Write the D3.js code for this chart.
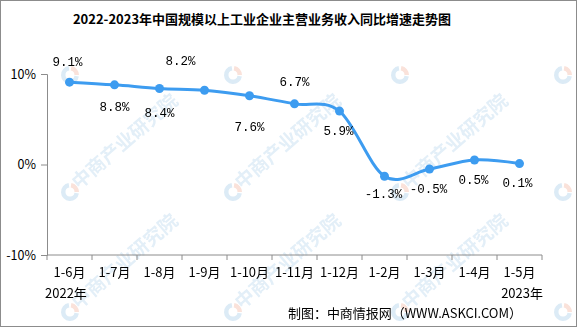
<!DOCTYPE html>
<html lang="zh">
<head>
  <meta charset="UTF-8">
  <title>2022-2023年中国规模以上工业企业主营业务收入同比增速走势图</title>
  <script src="https://d3js.org/d3.v7.min.js"></script>
  <style>
    * { margin: 0; padding: 0; box-sizing: border-box; }
    body { background: #fff; width: 577px; height: 327px; overflow: hidden; }
    svg { display: block; }
    .mono { font-family: 'Liberation Mono', 'DejaVu Sans Mono', 'Noto Sans CJK SC', monospace; }
    .cjk { font-family: 'Noto Sans CJK SC', 'Liberation Sans', sans-serif; }
  </style>
</head>
<body>
  <div id="chart"></div>

  <script>
    // data
    const categories = ["1-6月", "1-7月", "1-8月", "1-9月", "1-10月", "1-11月", "1-12月", "1-2月", "1-3月", "1-4月", "1-5月"];
    const growth = [9.1, 8.8, 8.4, 8.2, 7.6, 6.7, 5.9, -1.3, -0.5, 0.5, 0.1];
    const yTicks = [-10, 0, 10];
    const yearLabels = ["2022年", "2023年"];

    // label offsets relative to each point (placement only)
    const labelDx = [-2, 0, 0, -24, 0, 0, -1, -1, -1, -1, -2];
    const labelDy = [-16, 26, 29, -25, 35, -18, 24, 22, 24, 24, 23];

    const width = 577, height = 327;
    const margin = {top: 74, right: 35, bottom: 72, left: 47};

    const svg = d3.select("#chart").append("svg")
      .attr("width", width)
      .attr("height", height);

    // outer frame
    svg.append("rect")
      .attr("x", 0.5).attr("y", 0.5)
      .attr("width", width - 1).attr("height", height - 1)
      .attr("fill", "#fff").attr("stroke", "#8c8c8c");

    // watermarks (logo grid, text only where it fits inside the frame)
    const wm = svg.append("g").attr("opacity", 0.5);
    const wmX = [70, 233, 400, 563];
    const wmY = [75, 192, 312];
    wmY.forEach((cy, r) => wmX.forEach((cx, c) => {
      const g = wm.append("g").attr("transform", `translate(${cx},${cy})`);
      g.append("path")
        .attr("d", d3.arc()({innerRadius: 4.5, outerRadius: 9, startAngle: Math.PI * 0.55, endAngle: Math.PI * 1.95}))
        .attr("fill", "#b9d7ec");
      g.append("path")
        .attr("d", d3.arc()({innerRadius: 4.5, outerRadius: 9, startAngle: Math.PI * 0.05, endAngle: Math.PI * 0.5}))
        .attr("fill", "#f5c4b4");
      if (r > 0 && c < wmX.length - 1) {
        g.append("text")
          .attr("class", "cjk")
          .attr("transform", "translate(9,-2) rotate(-41)")
          .attr("font-size", 19)
          .attr("font-weight", "bold")
          .attr("fill", "#c6def0")
          .text("中商产业研究院");
      }
    }));

    const x = d3.scaleBand()
      .domain(categories)
      .range([margin.left, width - margin.right]);

    const y = d3.scaleLinear()
      .domain([-10, 10])
      .range([height - margin.bottom, margin.top]);

    // title
    svg.append("text")
      .attr("class", "cjk")
      .attr("x", 262).attr("y", 24)
      .attr("text-anchor", "middle")
      .attr("font-size", 13)
      .attr("font-weight", "bold")
      .attr("fill", "#000")
      .text("2022-2023年中国规模以上工业企业主营业务收入同比增速走势图");

    // y axis
    const yAxis = svg.append("g")
      .attr("transform", `translate(${margin.left},0)`)
      .call(d3.axisLeft(y).tickValues(yTicks).tickSize(6).tickFormat(d => d + "%"));
    yAxis.select(".domain").attr("stroke", "#8c8c8c");
    yAxis.selectAll(".tick line").attr("stroke", "#8c8c8c");
    yAxis.selectAll(".tick text")
      .attr("class", "cjk")
      .attr("font-size", 12.5)
      .attr("fill", "#000")
      .attr("x", -11)
      .text(d => d + "%");

    // x axis with ticks at band boundaries
    const xAxisG = svg.append("g")
      .attr("transform", `translate(0,${y(-10)})`);
    xAxisG.append("line")
      .attr("x1", margin.left).attr("x2", width - margin.right)
      .attr("stroke", "#8c8c8c");
    const bounds = categories.map(c => x(c)).concat([x(categories[categories.length - 1]) + x.bandwidth()]);
    xAxisG.selectAll(".xt").data(bounds).join("line")
      .attr("class", "xt")
      .attr("x1", d => d).attr("x2", d => d)
      .attr("y1", 0).attr("y2", 5)
      .attr("stroke", "#8c8c8c");
    xAxisG.selectAll(".xl").data(categories).join("text")
      .attr("class", "cjk xl")
      .attr("x", d => x(d) + x.bandwidth() / 2)
      .attr("y", 22)
      .attr("text-anchor", "middle")
      .attr("font-size", 13)
      .attr("fill", "#000")
      .text(d => d);

    // year labels
    svg.append("text")
      .attr("class", "cjk")
      .attr("x", x(categories[0]) - 2).attr("y", 298)
      .attr("font-size", 13).attr("fill", "#000")
      .text(yearLabels[0]);
    svg.append("text")
      .attr("class", "cjk")
      .attr("x", x(categories[categories.length - 1]) + x.bandwidth() + 1).attr("y", 298)
      .attr("text-anchor", "end")
      .attr("font-size", 13).attr("fill", "#000")
      .text(yearLabels[1]);

    // source
    svg.append("text")
      .attr("class", "cjk")
      .attr("x", 288).attr("y", 318)
      .attr("font-size", 13).attr("fill", "#000")
      .attr("textLength", 234)
      .text("制图：中商情报网（WWW.ASKCI.COM）");

    // line
    const pts = categories.map((c, i) => ({c, v: growth[i], i}));
    const line = d3.line()
      .x(d => x(d.c) + x.bandwidth() / 2)
      .y(d => y(d.v))
      .curve(d3.curveCardinal.tension(0));

    svg.append("path")
      .datum(pts)
      .attr("fill", "none")
      .attr("stroke", "#3d9cf0")
      .attr("stroke-width", 3)
      .attr("d", line);

    svg.selectAll(".dot").data(pts).join("circle")
      .attr("class", "dot")
      .attr("cx", d => x(d.c) + x.bandwidth() / 2)
      .attr("cy", d => y(d.v))
      .attr("r", 4.5)
      .attr("fill", "#3d9cf0");

    // value labels
    svg.selectAll(".vl").data(pts).join("text")
      .attr("class", "mono vl")
      .attr("x", d => x(d.c) + x.bandwidth() / 2 + labelDx[d.i])
      .attr("y", d => y(d.v) + labelDy[d.i])
      .attr("text-anchor", "middle")
      .attr("font-size", 12.5)
      .attr("fill", "#000")
      .text(d => d.v.toFixed(1) + "%");
  </script>
</body>
</html>
